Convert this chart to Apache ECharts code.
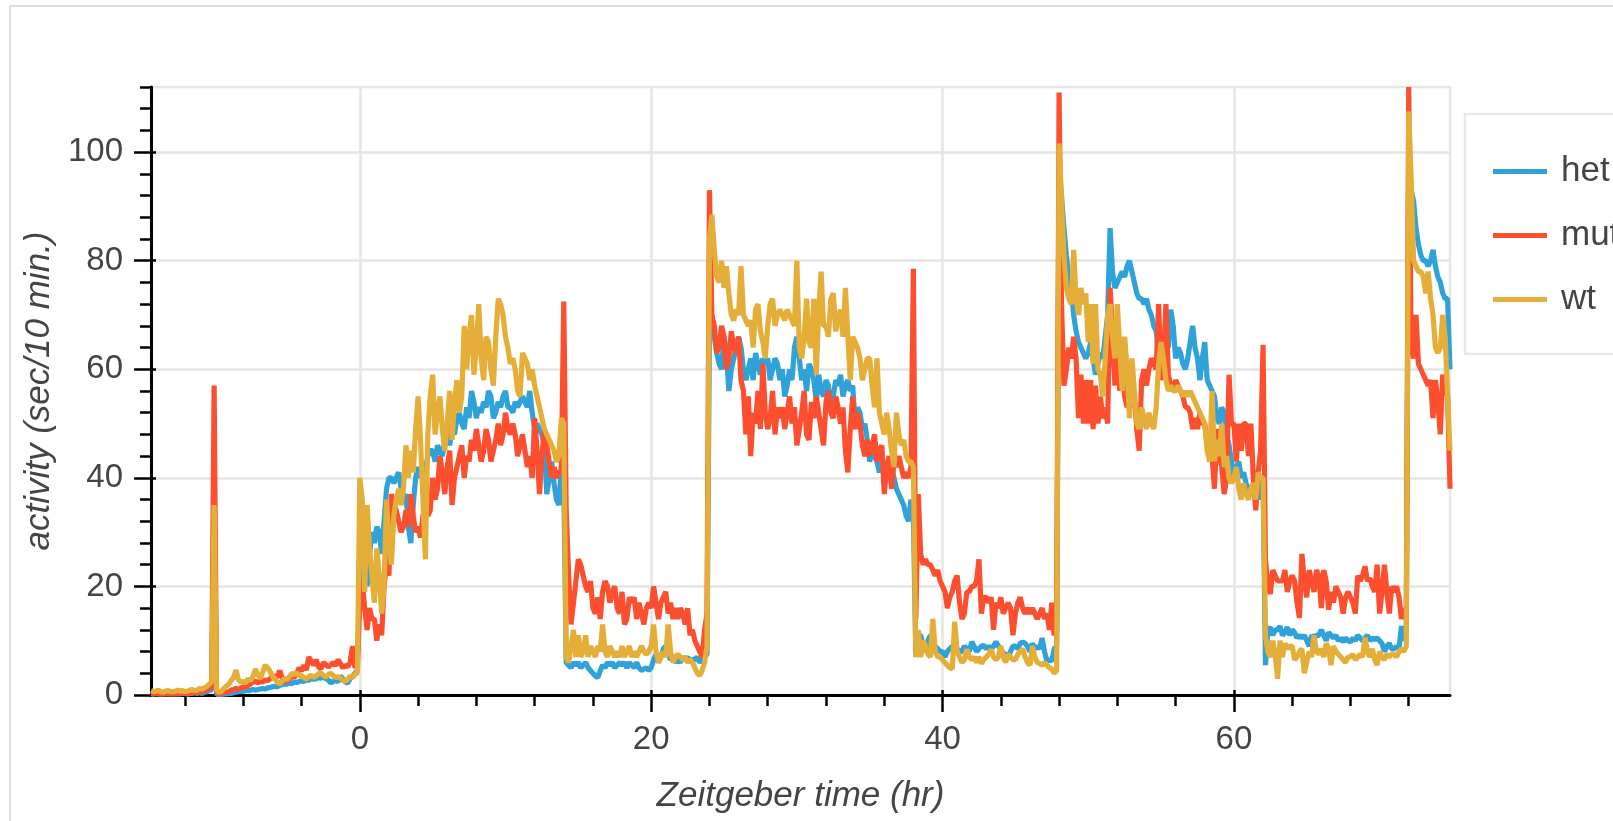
<!DOCTYPE html>
<html>
<head>
<meta charset="utf-8">
<title>Activity by genotype</title>
<script src="https://cdn.jsdelivr.net/npm/echarts/dist/echarts.min.js"></script>
<style>
  html, body { margin: 0; padding: 0; background: #fff; }
  #chart { width: 1613px; height: 821px; }
</style>
</head>
<body>
<div id="chart"></div>
<script>
// Mean activity per 10-minute bin, by genotype.
const genotypes = ['het', 'mut', 'wt'];
const colors = ['#30a2da', '#fc4f30', '#e5ae38'];
const tStart = -14 - 1 / 3;   // Zeitgeber time of the first bin (hr)
const tStep = 1 / 6;          // 10 minutes

// Two bins before ZT -14, then six bins per hour from ZT -14 through ZT 74.
const het = [
  0.2, 0.2,
  0.3,0.2,0.2,0.3,0.2,0.2,  0.3,0.2,0.3,0.2,0.2,0.3,  0.3,0.2,0.3,0.3,0.4,0.3,  0.4,0.3,0.5,0.6,0.8,1.0,
  32,0.1,0.1,0.1,0.2,0.2,  0.3,0.3,0.4,0.5,0.6,0.6,  0.7,0.8,0.8,0.9,1.0,0.9,  1.0,1.1,1.2,1.1,1.3,1.4,
  1.5,1.6,1.5,1.8,1.9,2.0,  2.0,2.2,2.1,2.4,2.3,2.5,  2.6,2.5,2.8,2.7,3.0,2.9,  3.0,3.2,3.1,3.3,3.0,2.8,
  2.2,2.5,2.8,2.4,3.5,3.0,  2.4,2.2,3.0,3.5,4.0,4.6,
  // ZT 0 - 13
  22,26,28,20,26,30,  28,31,30,26,32,38,  40,40,39,40,41,38,  36,37,31,28,35,40,  42,40,43,41,44,45,
  45,43,46,45,44,47,  48,46,49,48,51,52,  50,49,53,51,56,54,  51,53,52,54,53,56,  55,51,52,54,53,55,
  56,53,53,52,54,53,  54,55,54,53,56,52,  49,50,49,48,46,37,  40,43,39,36,35,42,
  // ZT 14 - 23
  40,6,5.5,5,6,5.5,  6,5,5.5,6,5,4.5,  4,3.5,3.2,4.5,5.5,5,  6,5.5,6,5,5.5,6,  5.5,6,5,6,5.5,5,
  6,5,4.5,4.8,5,4.5,  5,6.5,7.5,6,7,8.5,  9,7.5,6.5,7,6,6.5,  6,7,6.5,7,6,6.5,  6.5,7,6,6.5,7,7.5,
  // ZT 24 - 37
  68,70,66,63,61,60,  66,63,56,60,62,64,  66,64,60,58,60,62,  58,63,61,59,62,61,  62,58,60,62,61,58,
  60,55,57,60,58,64,  66,62,58,60,56,61,  60,58,54,59,56,55,  58,57,53,55,58,57,  59,55,57,58,56,57,
  50,53,52,49,50,47,  43,45,44,43,41,43,  42,41,40,42,40,38,  37,36,35,33,32,36,
  // ZT 38 - 47
  33,7,11,11,9,8,  10,11,8,9,8.5,8,  8,7,8,8.5,9,8,  8.5,8,8,9,8.5,8,  9.8,9,8,8.5,9,9.1,
  8.5,9,8.4,9,9.8,9,  8.5,7.7,7.5,7,8,9,  9,8.5,9.5,9.8,9.5,9,  8,9.5,8.5,9,8.5,10.5,  8,6.2,6.5,6.2,8.5,9,
  // ZT 48 - 61
  97,92,86,81,77,75,  70,67,65,64,63,62,  63,65,62,59,61,63,  62,66,70,86,78,75,  76,77,78,77,79,80,
  78,76,74,73,73,72,  73,71,70,68,67,63,  66,67,65,64,71,68,  62,64,63,61,60,62,  65,68,64,62,58,62,
  65,58,57,56,55,51,  50,53,52,48,46,43,  40,42,43,40,41,39,  38,37,39,37,36,40,
  // ZT 62 - 71
  40,5.5,12,12.5,11,12,  12,12.7,11,11.5,12.5,11,  12,11.5,10.5,11,10.5,11,  10,9,11,10.5,11,11,
  12,11,10,11.5,11,10.5,  11,10,10.5,9.8,10.5,10,  9.8,10.5,10,11,10.5,10,  10.5,11,10,10.5,10.2,10.5,
  10,9.5,8,9,9.5,8.5,  8.5,9,8.5,12.7,10,12,
  // ZT 72 - 74
  100,93,91,86,83,81,  80,80,79,80,82,79,  77,76,74,73,73,60
];

const mut = [
  0.3, 0.2,
  0.3,0.3,0.2,0.2,0.3,0.3,  0.2,0.3,0.2,0.3,0.3,0.4,  0.3,0.3,0.4,0.4,0.5,0.4,  0.6,0.5,0.8,1.0,1.2,1.5,
  57,0.4,0.3,0.3,0.4,0.5,  0.6,0.9,1.0,1.2,1.0,1.3,  1.5,1.4,1.8,2.0,2.4,2.6,  2.2,2.5,2.4,2.8,2.6,3.0,
  3.2,3.5,3.3,4.5,3.2,2.6,  2.5,3.0,3.5,3.2,4.0,5.0,  4.4,5.5,4.6,7.0,6.2,5.5,  6.5,5.2,4.8,6.0,5.6,5.2,
  5.5,6.0,5.4,6.5,5.8,5.0,  5.5,5.2,6.0,9.0,5.0,6.0,
  // ZT 0 - 13
  17,21,16,12,16,14,  14,10,13,11,20,24,  22,37,35,34,32,30,  31,34,31,37,33,30,  31,29,33,35,33,34,
  40,36,38,44,41,37,  42,45,35,40,42,44,  46,40,44,43,47,45,  49,46,43,45,49,47,  43,45,47,50,46,48,
  52,49,48,50,48,44,  46,48,45,42,44,40,  51,45,37,44,49,46,  43,40,42,40,41,41,
  // ZT 14 - 23
  72.5,34,22,13,17,21,  25,24,22,20,19,21,  16,15,18,14,19,21,  20,17,19,20,16,15,  19,13,14,18,17,18,
  14,17,15,13,16,17,  16,20,17,14,17,18,  19,15,17,14,16,14,  16,15,13,16,11,12,  10,9,8,7,12,15,
  // ZT 24 - 37
  93,70,68,63,64,68,  66,60,62,67,64,63,  66,58,56,48,55,44,  52,50,56,49,61,52,  49,51,56,48,53,51,
  53,49,52,55,50,53,  46,49,52,56,48,47,  54,51,55,52,49,46,  54,56,52,51,55,53,  50,53,45,41,49,55,
  49,52,50,46,44,47,  44,46,48,43,45,46,  37,42,44,38,43,42,  44,42,40,41,40,42,
  // ZT 38 - 47
  78.5,14,37,26,24,25,  24,24,23,22,23,21,  20,19,16,18,19,21,  22,17,14,15,19,19,  20,20,21,25,15,18,
  18,17,18,12,17,16,  18,15,16,17,16,11,  15,17,18,16,15,16,  15,16,15,14,15,16,  14,15,12,17,11,12,
  // ZT 48 - 61
  111,72,57,60,64,62,  66,62,51,59,50,58,  50,58,49,57,50,55,  51,53,50,75,67,57,  66,56,61,55,53,57,
  53,55,49,45,58,60,  57,60,62,61,60,72,  58,62,72,59,57,56,  58,57,56,55,53,53,  52,49,51,49,52,50,
  50,46,45,44,38,49,  44,42,37,40,59,50,  50,43,50,45,50,50,  44,50,40,34,41,45,
  // ZT 62 - 71
  64.5,25,20,18.6,23,22,  21,21,21,23,19,21,  22,21,17,14.2,26,21,  18,23,21,19,23,22,
  16,23,21,15.7,19,17,  20,19,18,15,18,19,  18,17,15,22,21,22,  23.7,21,21.5,20,19,24,
  15,19,24,19,15,20,  19,20,18,14,16,14.5,
  // ZT 72 - 74
  112,64,62,70,61,60,  59,58,57,58,51,58,  54,48,59,57,55,38
];

const wt = [
  0.8, 0.6,
  0.7,0.9,0.6,0.5,0.7,0.8,  0.6,0.6,0.7,0.9,0.7,0.8,  0.6,0.7,0.9,1.0,0.8,0.9,  1.2,1.1,1.3,1.6,2.0,2.5,
  35,0.8,0.5,0.7,1.2,1.6,  2.0,2.6,3.2,4.6,2.8,2.4,  2.5,2.2,3.0,2.6,3.4,4.8,  3.8,3.0,4.2,5.5,5.0,4.4,
  3.4,3.0,2.4,2.0,2.6,3.0,  2.8,3.4,4.0,3.8,4.1,3.5,  3.6,3.2,2.9,3.4,3.6,3.2,  3.5,3.9,4.1,3.6,3.3,3.8,
  4.0,3.6,3.2,3.4,3.1,2.7,  2.5,2.9,3.5,3.2,3.8,4.1,
  // ZT 0 - 13
  40,36,19,35,27,22,  17,27,22,15,20,36,  28,24,33,36,38,35,  38,46,40,45,41,49,  55,47,36,25,48,55,
  59,48,52,55,49,45,  50,56,47,54,58,52,  55,68,60,66,70,59,  64,72,62,58,66,65,  60,57,66,73,72,70,
  66,64,61,62,60,56,  55,63,62,61,58,60,  57,55,53,51,49,48,  47,46,45,43,44,51,
  // ZT 14 - 23
  50,7,6,9,12,7,  11,7,8,11,7,9,  8,7,9,8,13,8,  7,9,8,7,8,7,  9,7,8,9,7,8,
  7,8,9,8,7.5,8,  9,13,8,6,7,8,  7,13,8,6,7,7.5,  7,6.5,7,6,6.5,6,  5,4,3.6,4.5,6,9,
  // ZT 24 - 37
  84,88.5,82,77,76,80,  75,79,74,70,69,71,  70,79,70,69,68,69,  64,71,72,67,65,62,  68,72,73,68,70,71,
  70,69,71,70,69,68,  80,64,62,66,73,65,  64,73,59,71,78,68,  68,66,73,74,67,69,  71,66,75,66,58,66,
  65,64,62,58,60,62,  62,57,53,62,52,50,  48,52,49,45,42,52,  48,46,47,44,43,43,
  // ZT 38 - 47
  42,7,12,7,10,9,  7.5,7,14,8,7,7,  6.5,6,5.5,5,4.8,13.5,  8,7,6,6.5,8.4,7,  6.5,7,6,7,5.8,6.5,
  7,7.5,8.4,7,6.5,7,  9,7,6,7.5,7,6.5,  6.5,7.5,8,8.5,7,6,  5.5,9,7,6,5.8,5.5,  6,5.5,5,4.8,4,4.5,
  // ZT 48 - 61
  101.6,91,81,75,73,72,  82,73,70,75,72,74,  65,72,61,72,60,59,  55,62,70,72,66,62,  72,64,56,66,60,51,
  62,56,50,49,53,51,  49,52,50,49,53,61,  65,62,58,56,57,56,  56,57,56,55,56,55,  56,55,54,53,52,51,
  50,45,43,56,43,47,  44,50,42,44,40,39,  40,42,38,36,39,37,  36,38,39,36,41,40,
  // ZT 62 - 71
  40,11,8,7,10,7.5,  3,10,7,9.5,8.5,9,  9,6.5,7,8,8.5,4,  6,8,7,11,8,7.5,
  8.5,7,9.5,8.5,5.5,9,  8,7.5,7,6.5,6,7,  7,7.5,6.5,7,7.5,7,  10.6,8,7,8.5,6.5,5.5,
  8,7,6.5,7.5,7,7.5,  7.5,7,8,8.5,8,9,
  // ZT 72 - 74
  107.5,95,80,79,78,78,  77,74,78,73,70,64,  63,64,70,66,55,45
];

const seriesValues = [het, mut, wt];

// Axis extents and tick positions (hr and sec/10 min.)
const xRange = [tStart, 74 + 5 / 6];
const yRange = [0, 112];
const xMajorTicks = [0, 20, 40, 60];
const xMinorTicks = [-12, -8, -4, 4, 8, 12, 16, 24, 28, 32, 36, 44, 48, 52, 56, 64, 68, 72];
const yMajorTicks = [0, 20, 40, 60, 80, 100];
const yMinorTicks = [4, 8, 12, 16, 24, 28, 32, 36, 44, 48, 52, 56, 64, 68, 72, 76, 84, 88, 92, 96, 104, 108, 112];

const FONT = "'Liberation Sans', Arial, Helvetica, sans-serif";
const TEXT = '#444444';
const GRID = '#e5e5e5';

function axisBase(range, extra) {
  return Object.assign({
    type: 'value',
    gridIndex: 0,
    min: range[0],
    max: range[1],
    axisLine: { show: false, onZero: false },
    axisTick: { show: false },
    axisLabel: { show: false },
    splitLine: { show: false },
    silent: true
  }, extra);
}

function tickSet(values, length, inside) {
  return {
    show: true,
    inside: !!inside,
    length: length,
    customValues: values,
    lineStyle: { color: '#000', width: 2.5 }
  };
}

const chart = echarts.init(document.getElementById('chart'), null, { renderer: 'canvas' });

chart.setOption({
  animation: false,
  backgroundColor: '#ffffff',
  grid: {
    left: 151, top: 87, width: 1299, height: 608,
    show: true, borderColor: GRID, borderWidth: 2.5, backgroundColor: 'transparent'
  },
  xAxis: [
    axisBase(xRange, {
      position: 'bottom',
      name: 'Zeitgeber time (hr)',
      nameLocation: 'middle',
      nameGap: 84,
      nameTextStyle: { fontFamily: FONT, fontSize: 35, fontStyle: 'italic', color: TEXT },
      axisLine: { show: true, onZero: false, lineStyle: { color: '#000', width: 3 } },
      axisTick: tickSet(xMajorTicks, 17),
      axisLabel: {
        show: true, customValues: xMajorTicks, margin: 28,
        fontFamily: FONT, fontSize: 33, color: TEXT
      },
      splitLine: { show: true, lineStyle: { color: GRID, width: 2.5 } }
    }),
    axisBase(xRange, { position: 'bottom', axisTick: tickSet(xMinorTicks, 11) }),
    axisBase(xRange, { position: 'bottom', axisTick: tickSet(xMajorTicks, 5, true) })
  ],
  yAxis: [
    axisBase(yRange, {
      position: 'left',
      name: 'activity (sec/10 min.)',
      nameLocation: 'middle',
      nameGap: 86,
      nameTextStyle: { fontFamily: FONT, fontSize: 35, fontStyle: 'italic', color: TEXT },
      axisLine: { show: true, onZero: false, lineStyle: { color: '#000', width: 3 } },
      axisTick: tickSet(yMajorTicks, 17),
      axisLabel: {
        show: true, customValues: yMajorTicks, margin: 28,
        fontFamily: FONT, fontSize: 33, color: TEXT
      },
      splitLine: { show: true, lineStyle: { color: GRID, width: 2.5 } }
    }),
    axisBase(yRange, { position: 'left', axisTick: tickSet(yMinorTicks, 11) }),
    axisBase(yRange, { position: 'left', axisTick: tickSet(yMajorTicks, 5, true) })
  ],
  legend: {
    orient: 'vertical',
    left: 1465,
    top: 114,
    data: genotypes,
    icon: 'rect',
    itemWidth: 54,
    itemHeight: 5,
    itemGap: 29,
    padding: [40, 80, 37, 28],
    borderColor: '#e9e9e9',
    borderWidth: 2.5,
    selectedMode: false,
    textStyle: { fontFamily: FONT, fontSize: 35, color: TEXT, lineHeight: 35, padding: [0, 0, 0, 9] }
  },
  graphic: [
    { type: 'line', silent: true, shape: { x1: 10, y1: 6, x2: 1613, y2: 6 }, style: { stroke: '#d3d3d3', lineWidth: 1.5 } },
    { type: 'line', silent: true, shape: { x1: 10, y1: 6, x2: 10, y2: 821 }, style: { stroke: '#d3d3d3', lineWidth: 1.5 } }
  ],
  series: genotypes.map((g, i) => ({
    name: g,
    type: 'line',
    xAxisIndex: 0,
    yAxisIndex: 0,
    data: seriesValues[i].map((v, k) => [tStart + k * tStep, v]),
    showSymbol: false,
    symbol: 'none',
    lineStyle: { color: colors[i], width: 5.2, join: 'bevel' },
    itemStyle: { color: colors[i] },
    emphasis: { disabled: true },
    z: 2 + i
  }))
});
</script>
</body>
</html>
